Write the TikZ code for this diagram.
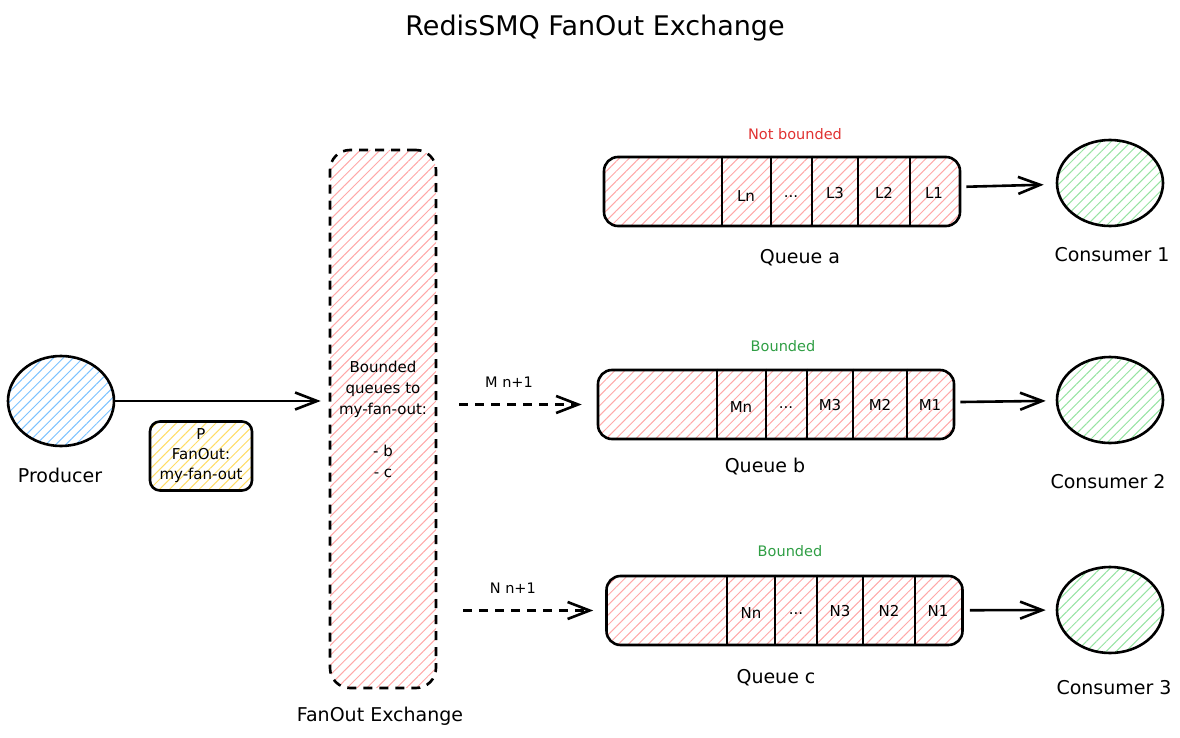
\documentclass[tikz,border=0pt]{standalone}
\usepackage{fontspec}
\setmainfont{DejaVu Sans}
\usetikzlibrary{shapes.geometric, arrows.meta, patterns.meta}
\definecolor{hatchred}{HTML}{FFA8A8}
\definecolor{hatchblue}{HTML}{7CC2FF}
\definecolor{hatchgreen}{HTML}{96E3A2}
\definecolor{hatchyellow}{HTML}{FFDD66}
\definecolor{txtred}{HTML}{E03131}
\definecolor{txtgreen}{HTML}{2F9E44}
\tikzset{
  hatch/.style={pattern={Lines[angle=45,distance=7pt,line width=1pt]}, pattern color=#1},
  queue/.style={draw, rounded corners=14pt, minimum width=356pt, minimum height=69pt, hatch=hatchred},
  consumer/.style={ellipse, draw, minimum width=106pt, minimum height=86pt, hatch=hatchgreen},
  lbl/.style={font=\fontsize{19}{23}\selectfont},
  note/.style={font=\fontsize{14.5}{17}\selectfont},
  cell/.style={font=\fontsize{15}{18}\selectfont}
}

\begin{document}
\begin{tikzpicture}[x=1pt, y=-1pt, line width=2.6pt,
  arr/.style={-{Straight Barb[length=22pt,width=17pt]}},
  darr/.style={arr, dash pattern=on 9pt off 7pt}]
 \useasboundingbox (0,0) rectangle (1180,738);
 \node[font=\fontsize{27}{31}\selectfont] (title) at (595,28) {RedisSMQ FanOut Exchange};

 \node[ellipse, draw, hatch=hatchblue, minimum width=106pt, minimum height=90pt] (prod) at (61,401) {};
 \node[lbl] (prodlbl) at (60,475) {Producer};
 \node[draw, rounded corners=10pt, hatch=hatchyellow, minimum width=102pt, minimum height=69pt,
   align=center, inner sep=0pt, font=\fontsize{15}{20}\selectfont] (msg) at (201,456) {P\\FanOut:\\my-fan-out};

 \node[draw, dash pattern=on 9pt off 7pt, rounded corners=20pt, hatch=hatchred, minimum width=106pt,
   minimum height=538pt, align=center, font=\fontsize{15}{21}\selectfont] (exch) at (383,419)
   {Bounded\\queues to\\my-fan-out:\\[21pt]- b\\- c};
 \node[lbl] (exchlbl) at (380,716) {FanOut Exchange};

 \node[queue] (qa) at (782,191.5) {};
 \draw (722,0 |- qa.north) -- (722,0 |- qa.south);
 \draw (771,0 |- qa.north) -- (771,0 |- qa.south);
 \draw (812,0 |- qa.north) -- (812,0 |- qa.south);
 \draw (858,0 |- qa.north) -- (858,0 |- qa.south);
 \draw (910,0 |- qa.north) -- (910,0 |- qa.south);
 \node[cell] (ln) at (746,196) {Ln};
 \node[cell] (ldots) at (791,197) {...};
 \node[cell] (l3) at (835,193) {L3};
 \node[cell] (l2) at (884,193) {L2};
 \node[cell] (l1) at (934,193) {L1};
 \node[note, txtred] (nba) at (795,134) {Not bounded};
 \node[lbl] (qalbl) at (800,258) {Queue a};

 \node[queue] (qb) at (776,404.5) {};
 \draw (717,0 |- qb.north) -- (717,0 |- qb.south);
 \draw (766,0 |- qb.north) -- (766,0 |- qb.south);
 \draw (807,0 |- qb.north) -- (807,0 |- qb.south);
 \draw (853,0 |- qb.north) -- (853,0 |- qb.south);
 \draw (907,0 |- qb.north) -- (907,0 |- qb.south);
 \node[cell] (mn) at (741,407) {Mn};
 \node[cell] (mdots) at (786,408) {...};
 \node[cell] (m3) at (830,405) {M3};
 \node[cell] (m2) at (880,405) {M2};
 \node[cell] (m1) at (930,405) {M1};
 \node[note, txtgreen] (bb) at (783,346) {Bounded};
 \node[lbl] (qblbl) at (765,467) {Queue b};

 \node[queue] (qc) at (784.5,610.5) {};
 \draw (727,0 |- qc.north) -- (727,0 |- qc.south);
 \draw (775,0 |- qc.north) -- (775,0 |- qc.south);
 \draw (817,0 |- qc.north) -- (817,0 |- qc.south);
 \draw (863,0 |- qc.north) -- (863,0 |- qc.south);
 \draw (915,0 |- qc.north) -- (915,0 |- qc.south);
 \node[cell] (nn) at (751,613) {Nn};
 \node[cell] (ndots) at (796,614) {...};
 \node[cell] (n3) at (840,611) {N3};
 \node[cell] (n2) at (889,611) {N2};
 \node[cell] (n1) at (938,611) {N1};
 \node[note, txtgreen] (bc) at (790,551) {Bounded};
 \node[lbl] (qclbl) at (776,678) {Queue c};

 \node[consumer] (c1) at (1110,183) {};
 \node[lbl] (c1lbl) at (1112,255) {Consumer 1};
 \node[consumer] (c2) at (1110,400) {};
 \node[lbl] (c2lbl) at (1108,482) {Consumer 2};
 \node[consumer] (c3) at (1110,610) {};
 \node[lbl] (c3lbl) at (1114,688) {Consumer 3};

 \draw[arr, shorten >=8pt] (prod) -- (prod -| exch.west);
 \draw[darr, shorten <=22pt, shorten >=15pt] (exch.east |- qb.west) -- (qb.west)
   node[note, pos=0.45, above=12pt] (mnext) {M n+1};
 \draw[darr, shorten <=26pt, shorten >=12pt] (exch.east |- qc.west) -- (qc.west)
   node[note, pos=0.45, above=12pt] (nnext) {N n+1};
 \draw[arr, shorten <=5pt, shorten >=12pt] (qa) -- (c1);
 \draw[arr, shorten <=5pt, shorten >=10pt] (qb) -- (c2);
 \draw[arr, shorten <=6pt, shorten >=10pt] (qc) -- (c3);
\end{tikzpicture}
\end{document}
